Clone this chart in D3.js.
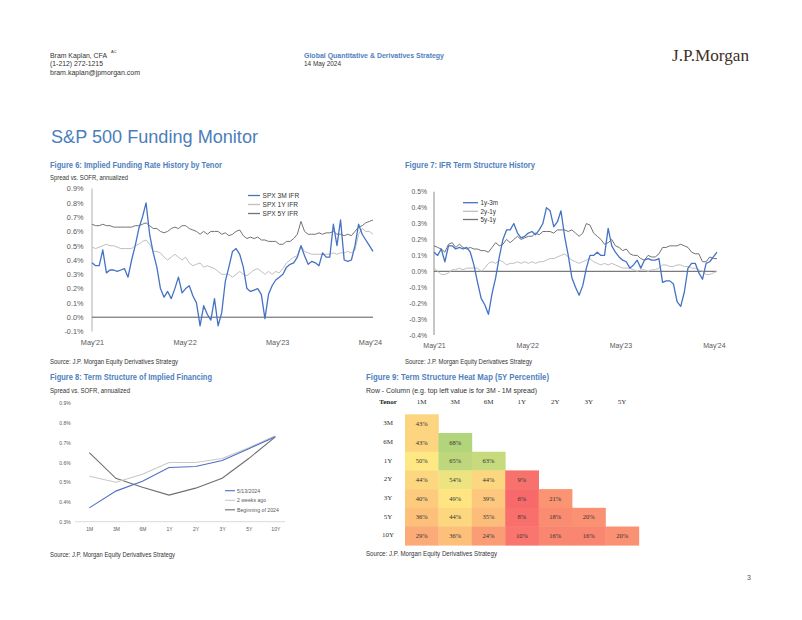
<!DOCTYPE html>
<html><head><meta charset="utf-8">
<script src="https://cdn.jsdelivr.net/npm/d3@7"></script>
<style>body{margin:0;background:#fff} svg{display:block}</style>
</head><body><svg id="c" width="802" height="620"></svg>
<script>
// ---------- DATA ----------
// Figure 6: implied funding rate (spread vs SOFR, %), bi-weekly readings May'21 - May'24
const ifr3m = [0.38,0.36,0.36,0.47,0.31,0.33,0.33,0.32,0.33,0.34,
0.28,0.40,0.50,0.62,0.70,0.80,0.58,0.45,0.35,0.20,
0.14,0.18,0.13,0.20,0.28,0.17,0.20,0.22,0.15,0.10,
-0.06,0.08,0.02,-0.02,0.13,-0.06,0.03,0.25,0.35,0.46,
0.48,0.44,0.35,0.20,0.18,0.19,0.20,0.16,-0.01,0.16,
0.22,0.26,0.28,0.30,0.35,0.37,0.38,0.42,0.50,0.43,
0.37,0.39,0.38,0.36,0.45,0.42,0.42,0.65,0.50,0.68,
0.40,0.39,0.40,0.50,0.65,0.58,0.54,0.50,0.46];
const ifr1y = [0.49,0.48,0.49,0.50,0.51,0.50,0.50,0.49,0.48,0.48,
0.48,0.48,0.50,0.51,0.53,0.54,0.51,0.46,0.46,0.45,
0.42,0.40,0.42,0.44,0.42,0.40,0.42,0.38,0.36,0.37,
0.38,0.35,0.36,0.35,0.34,0.32,0.30,0.30,0.30,0.28,
0.30,0.32,0.30,0.29,0.31,0.33,0.34,0.32,0.30,0.32,
0.30,0.32,0.31,0.34,0.38,0.40,0.42,0.43,0.50,0.46,
0.45,0.44,0.44,0.44,0.44,0.44,0.44,0.45,0.44,0.45,
0.45,0.46,0.45,0.47,0.58,0.62,0.60,0.60,0.58];
const ifr5y = [0.65,0.64,0.64,0.65,0.64,0.64,0.63,0.63,0.63,0.63,
0.63,0.63,0.64,0.64,0.65,0.66,0.64,0.62,0.62,0.60,
0.59,0.60,0.62,0.63,0.62,0.64,0.64,0.62,0.61,0.60,
0.58,0.60,0.58,0.60,0.60,0.60,0.58,0.59,0.57,0.58,
0.60,0.61,0.57,0.55,0.56,0.55,0.56,0.54,0.54,0.53,
0.53,0.53,0.51,0.51,0.53,0.53,0.55,0.58,0.67,0.60,
0.58,0.58,0.58,0.59,0.58,0.59,0.59,0.60,0.58,0.58,
0.57,0.58,0.57,0.60,0.63,0.64,0.66,0.67,0.68];
// Figure 7: IFR term structure spreads (%)
const ts1y3m = [0.12,0.10,0.14,0.06,0.16,0.16,0.14,0.15,0.14,0.15,
0.12,0.04,-0.07,-0.17,-0.21,-0.27,-0.14,-0.04,0.09,0.20,
0.26,0.26,0.30,0.24,0.21,0.22,0.24,0.25,0.23,0.26,
0.30,0.40,0.38,0.28,0.31,0.38,0.22,0.10,-0.04,-0.10,
-0.15,-0.09,0.02,0.10,0.10,0.12,0.10,0.10,0.27,0.16,
0.12,0.09,0.07,0.06,0.02,0.04,0.07,0.02,0.07,0.08,
0.07,0.07,0.08,-0.07,-0.06,-0.06,-0.08,-0.19,-0.22,-0.13,
0.02,0.05,0.05,-0.01,-0.05,0.05,0.06,0.09,0.12];
const ts2y1y = [0.02,0.00,-0.02,-0.02,-0.01,0.01,0.01,0.02,0.01,0.02,
0.02,0.02,0.02,0.00,0.02,0.05,0.06,0.05,0.07,0.06,
0.04,0.05,0.05,0.06,0.05,0.06,0.05,0.06,0.05,0.06,
0.06,0.07,0.08,0.08,0.09,0.10,0.11,0.09,0.07,0.06,
0.05,0.06,0.07,0.08,0.06,0.05,0.04,0.05,0.04,0.05,
0.04,0.03,0.02,0.02,0.02,0.01,0.00,0.01,0.01,0.00,
0.01,0.01,0.02,0.04,0.04,0.03,0.03,0.04,0.04,0.03,
0.03,0.02,0.02,0.01,0.00,-0.02,-0.02,-0.01,0.00];
const ts5y1y = [0.16,0.15,0.14,0.12,0.17,0.18,0.15,0.17,0.15,0.14,
0.15,0.14,0.14,0.13,0.13,0.12,0.15,0.18,0.16,0.17,
0.20,0.18,0.20,0.22,0.20,0.21,0.22,0.22,0.24,0.23,
0.25,0.25,0.25,0.24,0.26,0.26,0.26,0.25,0.26,0.24,
0.22,0.24,0.30,0.29,0.24,0.22,0.20,0.17,0.18,0.20,
0.16,0.15,0.13,0.14,0.11,0.10,0.10,0.08,0.07,0.10,
0.09,0.09,0.11,0.15,0.15,0.16,0.16,0.16,0.17,0.16,
0.15,0.12,0.11,0.11,0.06,0.06,0.09,0.08,0.08];
const histStart = "2021-05-01", histEnd = "2024-05-13";
const histTicks = ["2021-05-01","2022-05-01","2023-05-01","2024-05-01"];
// Figure 8: term structure
const tenors8 = ["1M","3M","6M","1Y","2Y","3Y","5Y","10Y"];
const curveNow = [0.37,0.455,0.505,0.575,0.58,0.61,0.67,0.73];
const curve2w  = [0.53,0.50,0.54,0.60,0.60,0.62,0.675,0.735];
const curveBoY = [0.65,0.52,0.475,0.435,0.47,0.52,0.62,0.73];
// Figure 9: heat map (5Y percentile)
const heatRows = ["3M","6M","1Y","2Y","3Y","5Y","10Y"];
const heatCols = ["1M","3M","6M","1Y","2Y","3Y","5Y"];
const heatValues = [[43],[43,68],[50,65,63],[44,54,44,9],[40,49,39,6,21],[36,44,35,8,18,20],[29,36,24,10,16,16,20]];

// ---------- DRAW ----------
const svg = d3.select("#c");
svg.append("rect").attr("width",802).attr("height",620).attr("fill","#fff");
const SANS = "'Liberation Sans', Arial, sans-serif";
const NARROW = "'Liberation Sans Narrow','Arial Narrow','Liberation Sans',sans-serif";
const SERIF = "'Liberation Serif','Times New Roman',serif";
const BLUE_T = "#4f81bd";

function txt(x,y,s,o={}){
  const t = svg.append("text").attr("x",x).attr("y",y).text(s)
    .attr("font-family",o.ff||SANS).attr("font-size",o.fs||7)
    .attr("fill",o.fill||"#333");
  if(o.fw) t.attr("font-weight",o.fw);
  if(o.anchor) t.attr("text-anchor",o.anchor);
  if(o.len) t.attr("textLength",o.len).attr("lengthAdjust","spacingAndGlyphs");
  return t;
}

// Header
txt(50,57.5,"Bram Kaplan, CFA",{fs:7,len:57});
txt(111,53,"AC",{fs:4});
txt(50,66,"(1-212) 272-1215",{fs:7,len:53});
txt(50,74.5,"bram.kaplan@jpmorgan.com",{fs:7,len:90});
txt(304,57.5,"Global Quantitative & Derivatives Strategy",{fs:7,fw:"bold",fill:BLUE_T,len:140});
txt(304,66,"14 May 2024",{fs:7,len:37});
txt(672,61,"J.P.Morgan",{ff:SERIF,fs:17,fill:"#3e2f26",len:77});

txt(51,143,"S&P 500 Funding Monitor",{fs:18.5,fill:"#4a7ebb",len:207});

// Figure titles
txt(50,167.5,"Figure 6: Implied Funding Rate History by Tenor",{ff:NARROW,fs:9,fw:"bold",fill:BLUE_T,len:172});
txt(50,179.5,"Spread vs. SOFR, annualized",{ff:NARROW,fs:7.5,len:78});
txt(405,167.5,"Figure 7: IFR Term Structure History",{ff:NARROW,fs:9,fw:"bold",fill:BLUE_T,len:130});
txt(50,379.5,"Figure 8: Term Structure of Implied Financing",{ff:NARROW,fs:9,fw:"bold",fill:BLUE_T,len:162});
txt(50,393,"Spread vs. SOFR, annualized",{ff:NARROW,fs:7.5,len:80});
txt(366,379.5,"Figure 9: Term Structure Heat Map (5Y Percentile)",{ff:NARROW,fs:9,fw:"bold",fill:BLUE_T,len:183});
txt(366,392.5,"Row - Column (e.g. top left value is for 3M - 1M spread)",{ff:NARROW,fs:7.5,len:171});
const SRC = "Source: J.P. Morgan Equity Derivatives Strategy";
txt(50,364,SRC,{ff:NARROW,fs:6.5,len:128});
txt(405,364,SRC,{ff:NARROW,fs:6.5,len:127});
txt(50,556.5,SRC,{ff:NARROW,fs:6.5,len:125});
txt(366,556,SRC,{ff:NARROW,fs:6.5,len:131});
txt(749,580,"3",{fs:7,anchor:"middle",fill:"#555"});

const pctFmt = v => (Math.abs(v)<1e-9?0:v).toFixed(1)+"%";
const parse = d3.timeParse("%Y-%m-%d");
const tFmt = d3.timeFormat("%b'%y");
const d0 = parse(histStart), d1 = parse(histEnd);
function datesFor(n){ return d3.range(n).map(i => new Date(+d0 + (d1-d0)*i/(n-1))); }

function histChart(cfg){
  const x = d3.scaleTime().domain([d0,d1]).range([cfg.x0,cfg.x1]);
  const y = d3.scaleLinear().domain(cfg.yDom).range([cfg.yB,cfg.yT]);
  const g = svg.append("g");
  // y axis labels
  const ya = g.append("g").attr("transform",`translate(${cfg.x0},0)`)
    .call(d3.axisLeft(y).tickValues(d3.range(cfg.yDom[0],cfg.yDom[1]+0.001,0.1)).tickSize(0).tickPadding(cfg.pad).tickFormat(pctFmt));
  ya.select(".domain").remove();
  ya.selectAll("text").attr("font-family",SANS).attr("font-size",cfg.tfs).attr("fill","#595959");
  // vertical axis line
  g.append("line").attr("x1",cfg.x0).attr("x2",cfg.x0).attr("y1",y(cfg.yDom[1])).attr("y2",y(cfg.yDom[0]))
    .attr("stroke",cfg.axisCol).attr("stroke-width",1);
  // x axis labels
  const xa = g.append("g").attr("transform",`translate(0,${cfg.xLabY})`)
    .call(d3.axisBottom(x).tickValues(histTicks.map(parse)).tickSize(0).tickPadding(0).tickFormat(tFmt));
  xa.select(".domain").remove();
  xa.selectAll("text").attr("dy",null).attr("y",0).attr("font-family",SANS).attr("font-size",cfg.xfs).attr("fill","#595959");
  // zero line
  g.append("line").attr("x1",cfg.x0).attr("x2",cfg.x1).attr("y1",y(0)).attr("y2",y(0))
    .attr("stroke","#595959").attr("stroke-width",1);
  cfg.series.forEach(s=>{
    const dates = datesFor(s.values.length);
    g.append("path").datum(s.values)
      .attr("d",d3.line().x((d,i)=>x(dates[i])).y(d=>y(d)))
      .attr("fill","none").attr("stroke",s.color).attr("stroke-width",s.w).attr("stroke-linejoin","round");
  });
  // legend
  cfg.legend.forEach((l,i)=>{
    const ly = cfg.legY[i];
    g.append("line").attr("x1",cfg.legX).attr("x2",cfg.legX+cfg.legW).attr("y1",ly).attr("y2",ly)
      .attr("stroke",l.color).attr("stroke-width",1.3);
    g.append("text").attr("x",cfg.legX+cfg.legW+2.5).attr("y",ly+2.3).text(l.name)
      .attr("font-family",SANS).attr("font-size",cfg.lfs).attr("fill","#333");
  });
}

const C_BLUE = "#4472c4", C_LG = "#bfbfbf", C_DG = "#737373";
histChart({x0:92,x1:373,yDom:[-0.1,0.9],yB:331.5,yT:188.5,pad:8.5,tfs:7.3,xfs:7.3,xLabY:345,axisCol:"#b0b0b0",
  series:[{values:ifr5y,color:C_DG,w:1},{values:ifr1y,color:C_LG,w:1},{values:ifr3m,color:C_BLUE,w:1.3}],
  legend:[{name:"SPX 3M IFR",color:C_BLUE},{name:"SPX 1Y IFR",color:C_LG},{name:"SPX 5Y IFR",color:C_DG}],
  legX:248,legW:12,legY:[195.5,204.5,213.5],lfs:6.6});
histChart({x0:434,x1:717,yDom:[-0.4,0.5],yB:335,yT:191.7,pad:7,tfs:6.8,xfs:7,xLabY:347.5,axisCol:"#8c8c8c",
  series:[{values:ts5y1y,color:C_DG,w:1},{values:ts2y1y,color:C_LG,w:1},{values:ts1y3m,color:C_BLUE,w:1.3}],
  legend:[{name:"1y-3m",color:C_BLUE},{name:"2y-1y",color:C_LG},{name:"5y-1y",color:C_DG}],
  legX:463,legW:15,legY:[202.7,211.3,219.5],lfs:6.3});

// Figure 8
(function(){
  const x = d3.scalePoint().domain(tenors8).range([89.3,275.3]);
  const y = d3.scaleLinear().domain([0.3,0.9]).range([521.7,403.3]);
  const g = svg.append("g");
  const ya = g.append("g").attr("transform","translate(76,0)")
    .call(d3.axisLeft(y).tickValues(d3.range(0.3,0.901,0.1)).tickSize(0).tickPadding(5.3).tickFormat(pctFmt));
  ya.select(".domain").remove();
  ya.selectAll("text").attr("font-family",SANS).attr("font-size",5).attr("fill","#595959");
  g.append("line").attr("x1",75).attr("x2",285).attr("y1",y(0.3)).attr("y2",y(0.3)).attr("stroke","#d0d0d0").attr("stroke-width",0.8);
  const xa = g.append("g").attr("transform","translate(0,531.3)")
    .call(d3.axisBottom(x).tickSize(0).tickPadding(0));
  xa.select(".domain").remove();
  xa.selectAll("text").attr("dy",null).attr("y",0).attr("font-family",SANS).attr("font-size",5).attr("fill","#595959");
  const ser = [{v:curveBoY,c:"#6e6e6e",n:"Beginning of 2024"},{v:curve2w,c:"#c8c8c8",n:"2 weeks ago"},{v:curveNow,c:"#4f6fc0",n:"5/13/2024"}];
  ser.forEach(s=>{
    g.append("path").datum(s.v).attr("d",d3.line().x((d,i)=>x(tenors8[i])).y(d=>y(d)))
      .attr("fill","none").attr("stroke",s.c).attr("stroke-width",1.1);
  });
  const leg = [ser[2],ser[1],ser[0]], ly=[490.7,500.3,509.8];
  leg.forEach((s,i)=>{
    g.append("line").attr("x1",225).attr("x2",235).attr("y1",ly[i]).attr("y2",ly[i]).attr("stroke",s.c).attr("stroke-width",1.1);
    g.append("text").attr("x",237).attr("y",ly[i]+1.8).text(s.n).attr("font-family",SANS).attr("font-size",5.2).attr("fill","#595959");
  });
})();

// Figure 9 heat map
(function(){
  const cw = 33.4, rh = 18.7, cx0 = 405, ry0 = 414.3;
  const xb = d3.scaleBand().domain(heatCols).range([cx0,cx0+cw*heatCols.length]);
  const yb = d3.scaleBand().domain(heatRows).range([ry0,ry0+rh*heatRows.length]);
  const col = d3.scaleLinear().domain([6,50,68]).range(["#f8696b","#fee883","#b2d47a"]);
  const g = svg.append("g");
  txt(388,404,"Tenor",{ff:SERIF,fs:7,fw:"bold",anchor:"middle",fill:"#222"});
  heatCols.forEach(c=>txt(xb(c)+xb.bandwidth()/2,404,c,{ff:SERIF,fs:7,anchor:"middle",fill:"#333"}));
  heatRows.forEach((r,ri)=>{
    txt(388,yb(r)+rh/2+1.5,r,{ff:SERIF,fs:7,anchor:"middle",fill:"#333"});
    heatValues[ri].forEach((v,ci)=>{
      const c = heatCols[ci];
      g.append("rect").attr("x",xb(c)).attr("y",yb(r)).attr("width",xb.bandwidth()+0.4).attr("height",yb.bandwidth()+0.4)
        .attr("fill",col(v));
      g.append("text").attr("x",xb(c)+xb.bandwidth()/2).attr("y",yb(r)+rh/2+2.3).text(v+"%")
        .attr("text-anchor","middle").attr("font-family",SERIF).attr("font-size",6.5).attr("fill","#333");
    });
  });
})();
</script></body></html>
